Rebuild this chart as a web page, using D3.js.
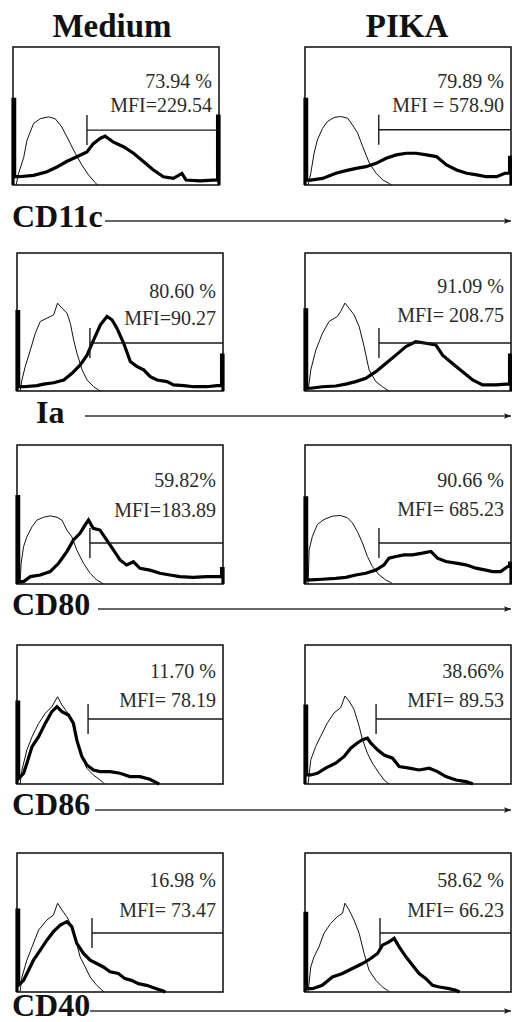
<!DOCTYPE html>
<html><head><meta charset="utf-8">
<script src="https://cdn.jsdelivr.net/npm/d3@7"></script>
<style>html,body{margin:0;padding:0;background:#fff;}svg{display:block;}</style>
</head><body>
<svg id="c" width="512" height="1022"></svg>
<script>
// ---------- data (x = channel % of axis, y = % of max count) ----------
const conditions = ["Medium", "PIKA"];
const markers = ["CD11c", "Ia", "CD80", "CD86", "CD40"];
const percentLabels = [["73.94 %", "79.89 %"], ["80.60 %", "91.09 %"], ["59.82%", "90.66 %"], ["11.70 %", "38.66%"], ["16.98 %", "58.62 %"]];
const mfiLabels = [["MFI=229.54", "MFI = 578.90"], ["MFI=90.27", "MFI= 208.75"], ["MFI=183.89", "MFI= 685.23"], ["MFI= 78.19", "MFI= 89.53"], ["MFI= 73.47", "MFI= 66.23"]];
const gateChannel = [[35.9, 35.8], [35.4, 35.9], [35.4, 35.9], [34.5, 34.5], [36.4, 36.4]];
const gateLevel = [[39.8, 40], [34.8, 34.8], [29.5, 29.5], [46.8, 46.8], [42.4, 42.4]];

const ctrlCD11cMedium = [[1.5,0],[2.7,8.4],[5.2,20],[6.8,32.5],[10,44.6],[13.2,48],[17.3,49.4],[20.5,48],[23.7,42],[27,32.5],[30.2,23],[33.4,14.5],[36.7,7.2],[39.9,1.7],[41,0]];
const stainCD11cMedium = [[0,0],[0,62],[0.8,62],[0.8,6],[2.7,6],[10,7],[16.5,9.6],[21.3,13],[26,17],[31,20.5],[35.9,24],[39,30],[42.3,33.7],[44.7,35.4],[48.8,31],[53.6,27.7],[58.5,23],[63.3,17],[68,11],[73,6],[77.9,4.8],[82,8.4],[84,3.6],[90.8,3],[97,3.6],[99.3,3.6],[99.3,50],[100,50],[100,0]];
const ctrlCD11cPIKA = [[1.5,0],[2.8,8.5],[4.4,23],[6,32.7],[8.5,41],[10.9,46],[14.2,49],[17.4,49.6],[20.7,48.4],[23,43.6],[25.6,37.5],[28,27.8],[31.3,15.7],[34.5,8.5],[37.8,3.6],[41,1],[42,0]];
const stainCD11cPIKA = [[0,0],[0,62],[0.8,62],[0.8,3.6],[2.8,3.6],[8.5,4.8],[15,8.5],[19.9,10.4],[24.8,12],[29.6,13.3],[34.5,15.7],[39.4,19.4],[44.3,21.8],[49.2,23],[54,23],[59,21.8],[63.8,20.6],[68.7,14.5],[73.6,10.9],[78.5,8.5],[83.4,7.3],[88,6],[93,6],[97,8.5],[99.3,8.5],[99.3,20],[100,20],[100,0]];

const ctrlIaMedium = [[1.5,0],[2.4,8],[4,17.7],[6.5,29.8],[8.9,41.9],[11.3,50.4],[14.6,52.8],[17.8,55.2],[19.7,63.7],[21.8,60],[24.3,56.4],[25.9,49],[27.5,37],[29.1,27.4],[31.6,15.3],[34,8],[37.2,3.1],[39.6,0.7],[40.5,0]];
const stainIaMedium = [[0,0],[0,57.6],[0.8,57.6],[0.8,3.1],[3.2,3.1],[9.7,3.9],[12.9,5],[17.8,6],[22.7,8],[26.7,12.8],[30.7,18.9],[34,26],[37.2,37],[40.5,48],[43.7,54],[46.1,51.6],[48.5,45.5],[51.8,34.6],[55,21.3],[58.3,17.7],[61.5,15.3],[64.7,10.4],[68,8],[72.8,6.8],[76,4.4],[81,3.9],[85.8,3.1],[92.2,3.1],[97,3.9],[99.3,3.9],[99.3,26],[100,26],[100,0]];
const ctrlIaPIKA = [[1.5,0],[2.8,15.3],[5.3,29.8],[8.5,41.9],[11.7,50.4],[15.7,54],[17.3,57.6],[19.4,63.7],[21.4,60],[23.8,55.2],[26.3,46.7],[28.7,32.2],[31.1,15.3],[34.4,6.8],[37.6,3.1],[40,0.7],[41,0]];
const stainIaPIKA = [[0,0],[0,58.8],[0.8,58.8],[0.8,2],[2.8,2],[8.4,3.1],[14.9,3.6],[19.8,5],[24.6,6.8],[29.5,9.2],[34.4,14],[39.2,20],[44.1,26],[49,32.2],[53.8,35.8],[58.7,34.6],[63.5,33.4],[66.8,26],[71.6,20],[76.5,14],[81.4,8],[86.2,4.4],[92.7,4.4],[97.6,5],[99.3,5],[99.3,26],[100,26],[100,0]];

const ctrlCD80Medium = [[1.5,0],[2,15],[3.2,26.9],[4.8,34],[7.3,41.2],[9.7,46],[12.9,48],[16.1,49],[19.4,48],[21.8,46],[24.2,38.8],[26.6,34],[29,24.5],[32.3,14.9],[35.5,7.7],[38.7,2.9],[41,1],[42,0]];
const stainCD80Medium = [[0,0],[0,62.8],[0.8,62.8],[0.8,1.7],[3.2,1.7],[6.5,5.3],[11.3,6.5],[16.1,8.9],[20.2,14.9],[24.2,23.3],[27.4,31.7],[30.6,36.5],[33,42.4],[34.7,46],[37,40],[40.3,38.8],[43.5,31.7],[46.8,24.5],[50,17.3],[53.2,13.7],[56.5,16],[59.7,11.3],[64.5,10],[69.4,7.7],[74.2,6.5],[79,5.3],[85.5,4.8],[92,5.3],[96.8,5.3],[99.3,5.3],[99.3,11],[100,11],[100,0]];
const ctrlCD80PIKA = [[1.5,0],[2,24.6],[3.6,34.3],[6,42.8],[9.2,46.4],[13.3,48.8],[17.3,49.3],[20.6,47.6],[23,44],[25.4,37.9],[27.9,29.5],[30.3,19.8],[32.7,12.6],[36,6.5],[39.2,2.9],[41.7,1],[42.5,0]];
const stainCD80PIKA = [[0,0],[0,62],[0.8,62],[0.8,2.9],[2.8,2.9],[8.4,3.4],[14.9,4.1],[19.8,4.8],[24.6,6.5],[29.5,7.7],[34.4,10],[38.4,13.8],[40.8,18.6],[44.1,19.8],[48.1,21],[52.2,21],[57,22.2],[61.1,23.4],[64.3,18.6],[68.4,16.2],[73.3,15],[78.1,13.8],[83,11.4],[87.8,10],[91,8.9],[95,8.9],[98.4,12.6],[99.3,12.6],[99.3,15],[100,15],[100,0]];

const ctrlCD86Medium = [[1.5,0],[2.4,10],[4.8,24.5],[7.3,34],[10.5,43.6],[13.7,50.8],[16.9,55.6],[19.7,62.8],[21.8,56.8],[24.2,52],[26.6,46],[29,31.7],[31.5,19.7],[33.9,11.3],[37.1,6.5],[40.3,2.9],[41.9,1],[42.5,0]];
const stainCD86Medium = [[0,0],[0,59],[0.8,59],[0.8,4],[3.2,7.7],[4.8,14.9],[7.3,26.9],[10.5,34],[13.7,43.6],[16.9,52],[19.4,55.6],[21.8,52],[25,49.6],[27.4,43.6],[29,31.7],[31.5,19.7],[33.9,13.7],[37.1,10],[40.3,8.9],[45.2,8.9],[50,7.7],[54.8,5.3],[59.7,5.3],[64.5,3.4],[67.7,1],[69,0]];
const ctrlCD86PIKA = [[1.5,0],[2.8,17.4],[5.2,27],[7.6,34.3],[10.9,44],[14.1,51.2],[17.3,54.8],[19.4,63.3],[21.4,59.7],[23.8,53.6],[26.3,41.5],[27.9,31.9],[30.3,22.2],[32.7,15],[36,7.7],[38.4,2.9],[40,1],[41,0]];
const stainCD86PIKA = [[0,0],[0,56],[0.8,56],[0.8,6.5],[2.8,6.5],[6,7.7],[10,11.4],[14.9,15],[19,19.8],[22.2,25.8],[25.4,29.5],[27.9,31.9],[30.3,33],[31.9,29.5],[35.2,24.6],[38.4,20.8],[42.5,18.6],[45.7,12.6],[50.6,11.4],[55.4,10.1],[60.3,11.4],[64.3,8.9],[68.4,5.3],[73.3,2.9],[78.1,1.7],[80.6,0.5],[81.5,0]];

const ctrlCD40Medium = [[1.5,0],[2.4,10.8],[4.8,22.9],[7.3,32.5],[10.5,44.6],[14.5,51.8],[17.7,55.4],[19.7,63.9],[21.8,59],[24.2,54.2],[26.6,47],[29,35],[30.6,25.3],[33.1,18],[35.5,10.8],[38.7,4.8],[41.1,1.7],[42,0]];
const stainCD40Medium = [[0,0],[0,59],[0.8,59],[0.8,5],[3.2,8.4],[5.6,15.7],[8,22.9],[11.3,30.1],[14.5,37.3],[17.7,43.4],[21,48.2],[24.2,50.6],[26.6,47],[29,35],[32.3,27.7],[35.5,22.9],[38.7,20.5],[41.9,18],[45.2,14.5],[49.2,13.3],[52.4,9.6],[55.6,8.4],[58.9,6],[62.9,4.8],[67.7,2.4],[71,0.7],[72,0]];
const ctrlCD40PIKA = [[1.5,0],[2.8,18],[4.4,25.3],[6.8,32.5],[9.2,42.2],[12.5,49.4],[15.7,54.2],[18.2,56.6],[19.4,63.9],[21.4,59],[23.8,51.8],[26.3,42.2],[28.7,27.7],[31.1,15.7],[34.4,8.4],[37.6,3.6],[40,1.2],[41,0]];
const stainCD40PIKA = [[0,0],[0,56.6],[0.8,56.6],[0.8,2.4],[3.6,2.4],[8.4,4.8],[13.3,10.8],[18.2,13.3],[23,16.9],[27.9,20.5],[31.9,24.1],[35.2,27.7],[37.6,33.7],[40.8,36.1],[43.3,38.6],[45.7,32.5],[49,25.3],[52.2,19.3],[55.4,13.3],[58.7,9.6],[61.9,4.8],[65.2,3.6],[70,2.4],[73.3,1.2],[75,0]];

// lookup built from the named arrays
const ctrlSeries = [[ctrlCD11cMedium, ctrlCD11cPIKA],[ctrlIaMedium, ctrlIaPIKA],[ctrlCD80Medium, ctrlCD80PIKA],[ctrlCD86Medium, ctrlCD86PIKA],[ctrlCD40Medium, ctrlCD40PIKA]];
const stainSeries = [[stainCD11cMedium, stainCD11cPIKA],[stainIaMedium, stainIaPIKA],[stainCD80Medium, stainCD80PIKA],[stainCD86Medium, stainCD86PIKA],[stainCD40Medium, stainCD40PIKA]];

// ---------- layout ----------
const rowLayout = [
  {top: 47,  bottom: 185, leftX: 13, labelX: 12, labelY: 227, arrowX: 105, arrowY: 221, pctY: [41, 41], mfiY: [65, 65]},
  {top: 253, bottom: 391, leftX: 17, labelX: 36, labelY: 423, arrowX: 85,  arrowY: 416, pctY: [45, 40], mfiY: [72, 69]},
  {top: 445, bottom: 584, leftX: 17, labelX: 12, labelY: 615, arrowX: 98,  arrowY: 609, pctY: [42, 42], mfiY: [72, 71]},
  {top: 645, bottom: 784, leftX: 17, labelX: 12, labelY: 815, arrowX: 95,  arrowY: 810, pctY: [33, 33], mfiY: [62, 62]},
  {top: 853, bottom: 992, leftX: 17, labelX: 12, labelY: 1016, arrowX: 90, arrowY: 1011, pctY: [34, 34], mfiY: [64, 64]}
];
const rightX = 305, boxW = 206, arrowEnd = 511;
const titleX = [112, 407], titleY = 37;
const ink = "#1a1a1a", textInk = "#2b2b2b";
const serif = "'Liberation Serif','Times New Roman',serif";

const svg = d3.select("#c");
svg.append("defs").append("marker")
  .attr("id", "ah").attr("viewBox", "0 0 10 10").attr("refX", 10).attr("refY", 5)
  .attr("markerWidth", 10).attr("markerHeight", 7).attr("markerUnits", "userSpaceOnUse")
  .attr("orient", "auto")
  .append("path").attr("d", "M0,1 L10,5 L0,9 L2,5 Z").attr("fill", ink);

// column titles
svg.selectAll("text.title").data(conditions).join("text")
  .attr("class", "title")
  .attr("x", (d, i) => titleX[i]).attr("y", titleY)
  .attr("text-anchor", "middle")
  .attr("font-family", serif)
  .attr("font-weight", "bold").attr("font-size", 33).attr("fill", "#111")
  .text(d => d);

markers.forEach((m, r) => {
  const L = rowLayout[r];
  conditions.forEach((c, ci) => {
    const x0 = ci === 0 ? L.leftX : rightX;
    const xs = d3.scaleLinear().domain([0, 100]).range([x0, x0 + boxW]);
    const ys = d3.scaleLinear().domain([0, 100]).range([L.bottom, L.top]);
    const g = svg.append("g");
    const line = d3.line().x(d => xs(d[0])).y(d => ys(d[1])).curve(d3.curveLinear);

    // box
    g.append("rect").attr("x", xs(0)).attr("y", ys(100))
      .attr("width", xs(100) - xs(0)).attr("height", ys(0) - ys(100))
      .attr("fill", "none").attr("stroke", ink).attr("stroke-width", 1.6);

    // isotype control (thin)
    g.append("path").datum(ctrlSeries[r][ci]).attr("d", line)
      .attr("fill", "none").attr("stroke", "#111").attr("stroke-width", 1);
    // stained (thick)
    g.append("path").datum(stainSeries[r][ci]).attr("d", line)
      .attr("fill", "none").attr("stroke", "#000").attr("stroke-width", 3.2)
      .attr("stroke-linejoin", "miter");

    // gate marker
    const gx = xs(gateChannel[r][ci]), gy = ys(gateLevel[r][ci]);
    g.append("line").attr("x1", gx).attr("x2", xs(100)).attr("y1", gy).attr("y2", gy)
      .attr("stroke", ink).attr("stroke-width", 1.4);
    g.append("line").attr("x1", gx).attr("x2", gx).attr("y1", gy - 15).attr("y2", gy + 15)
      .attr("stroke", ink).attr("stroke-width", 1.4);

    // labels
    const tx = xs(100) - 7;
    g.append("text").attr("x", tx).attr("y", L.top + L.pctY[ci])
      .attr("text-anchor", "end").attr("font-family", serif)
      .attr("font-size", 20).attr("fill", textInk).text(percentLabels[r][ci]);
    g.append("text").attr("x", tx).attr("y", L.top + L.mfiY[ci])
      .attr("text-anchor", "end").attr("font-family", serif)
      .attr("font-size", 20).attr("fill", textInk).text(mfiLabels[r][ci]);
  });

  // marker label + axis arrow
  svg.append("text").attr("x", L.labelX).attr("y", L.labelY)
    .attr("font-family", serif)
    .attr("font-weight", "bold").attr("font-size", 32).attr("fill", "#111").text(m);
  svg.append("line").attr("x1", L.arrowX).attr("x2", arrowEnd)
    .attr("y1", L.arrowY).attr("y2", L.arrowY)
    .attr("stroke", "#333").attr("stroke-width", 1.5).attr("marker-end", "url(#ah)");
});
</script>
</body></html>
